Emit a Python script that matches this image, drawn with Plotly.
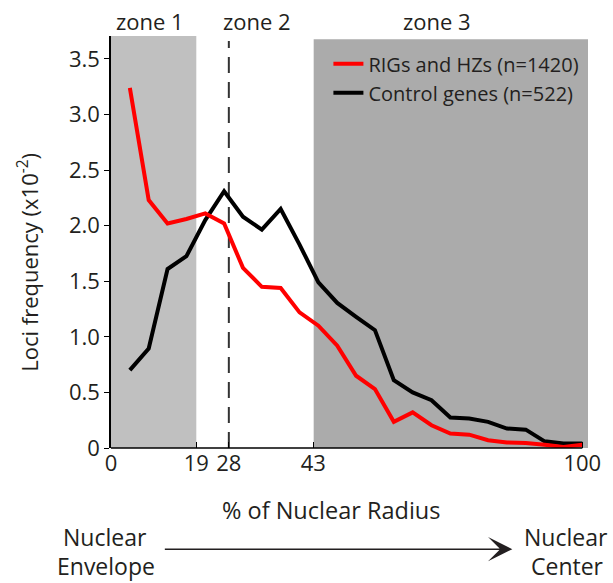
import plotly.graph_objects as go

# ---- data ----
radius_pct = [4, 8, 12, 16, 20, 24, 28, 32, 36, 40, 44, 48, 52, 56, 60, 64, 68, 72, 76, 80, 84, 88, 92, 96, 100]
rigs_hzs = [3.24, 2.23, 2.02, 2.06, 2.11, 2.02, 1.62, 1.45, 1.44, 1.22, 1.10, 0.92, 0.65, 0.53, 0.235,
            0.32, 0.205, 0.13, 0.12, 0.07, 0.05, 0.045, 0.03, 0.01, 0.03]
control = [0.70, 0.895, 1.61, 1.725, 2.05, 2.31, 2.08, 1.965, 2.15, 1.83, 1.49, 1.305, 1.18, 1.06, 0.61,
           0.50, 0.43, 0.275, 0.265, 0.235, 0.175, 0.165, 0.06, 0.04, 0.04]
series_names = ["RIGs and HZs (n=1420)", "Control genes (n=522)"]

x_tick_positions = [0, 18.1, 25, 42.9, 100]
x_tick_labels = ["0", "19", "28", "43", "100"]
y_tick_values = [0, 0.5, 1.0, 1.5, 2.0, 2.5, 3.0, 3.5]
y_tick_labels = ["0", "0.5", "1.0", "1.5", "2.0", "2.5", "3.0", "3.5"]

zone1 = (0, 18.1)
zone2_mark = 25
zone3 = (43, 101.2)
zone_labels = ["zone 1", "zone 2", "zone 3"]

FONT = "Open Sans"
TXT = "#231f20"
L, T, R, B = 110.5, 35.7, 587.7, 447.8
W, H = 613, 583


def px(xp):
    return (xp - L) / (R - L)


def py(yp):
    return (B - yp) / (B - T)


fig = go.Figure()
fig.add_trace(go.Scatter(x=radius_pct, y=control, mode="lines", name=series_names[1],
                         line=dict(color="#000000", width=4)))
fig.add_trace(go.Scatter(x=radius_pct, y=rigs_hzs, mode="lines", name=series_names[0],
                         line=dict(color="#ff0000", width=4)))

shapes = [
    dict(type="rect", xref="x", yref="y", x0=zone1[0], x1=zone1[1], y0=0, y1=3.706,
         fillcolor="#c0c0c0", line=dict(width=0), layer="below"),
    dict(type="rect", xref="x", yref="y", x0=zone3[0], x1=zone3[1], y0=0, y1=3.676,
         fillcolor="#ababab", line=dict(width=0), layer="below"),
    dict(type="line", xref="x", yref="y", x0=zone2_mark, x1=zone2_mark, y0=0, y1=3.66,
         line=dict(color="#333333", width=2, dash="16px,9px"), layer="below"),
    dict(type="line", xref="x", yref="paper", x0=0, x1=100, y0=0, y1=0,
         line=dict(color="#000000", width=1.5), layer="above"),
]

annotations = []
for lab, xc in zip(zone_labels, [150, 256.7, 436.7]):
    annotations.append(dict(text=lab, xref="paper", yref="paper", x=px(xc), y=py(21),
                            showarrow=False, xanchor="center", yanchor="middle",
                            font=dict(family=FONT, size=22, color=TXT)))
annotations.append(dict(text="Loci frequency (x10<sup>-2</sup>)", xref="paper", yref="paper",
                        x=px(27), y=py(262), textangle=-90, showarrow=False,
                        xanchor="center", yanchor="middle",
                        font=dict(family=FONT, size=22, color=TXT)))
annotations.append(dict(text="% of Nuclear Radius", xref="paper", yref="paper",
                        x=px(331), y=py(510), showarrow=False,
                        xanchor="center", yanchor="middle",
                        font=dict(family=FONT, size=23.5, color=TXT)))
for txt, xc, yc in [("Nuclear", 104, 537), ("Envelope", 105, 566),
                    ("Nuclear", 565.7, 537), ("Center", 567, 566)]:
    annotations.append(dict(text=txt, xref="paper", yref="paper", x=px(xc), y=py(yc),
                            showarrow=False, xanchor="center", yanchor="middle",
                            font=dict(family=FONT, size=23, color=TXT)))
annotations.append(dict(text="", xref="paper", yref="paper", x=px(512), y=py(549),
                        ax=-349, ay=0, axref="pixel", ayref="pixel",
                        showarrow=True, arrowhead=3, arrowsize=2.7, arrowwidth=1.5,
                        arrowcolor=TXT))

fig.update_layout(
    width=W, height=H,
    margin=dict(l=L, r=W - R, t=T, b=H - B, pad=0),
    paper_bgcolor="white", plot_bgcolor="white",
    shapes=shapes, annotations=annotations,
    showlegend=True,
    legend=dict(x=px(328), y=py(44), xanchor="left", yanchor="top",
                bgcolor="rgba(0,0,0,0)", traceorder="reversed",
                font=dict(family=FONT, size=20, color=TXT), tracegroupgap=0),
    xaxis=dict(range=[0, 101.2], showgrid=False, zeroline=False, showline=False,
               tickmode="array", tickvals=x_tick_positions, ticktext=x_tick_labels,
               ticks="inside", ticklen=6, tickwidth=1, tickcolor="#000000",
               tickfont=dict(family=FONT, size=22, color=TXT)),
    yaxis=dict(range=[0, 3.706], showgrid=False, zeroline=False, showline=True,
               linecolor="#000000", linewidth=1.5,
               tickmode="array", tickvals=y_tick_values, ticktext=y_tick_labels,
               ticks="outside", ticklen=5, tickwidth=1, tickcolor="#000000",
               tickfont=dict(family=FONT, size=22, color=TXT)),
)

fig.write_html("out.html")
